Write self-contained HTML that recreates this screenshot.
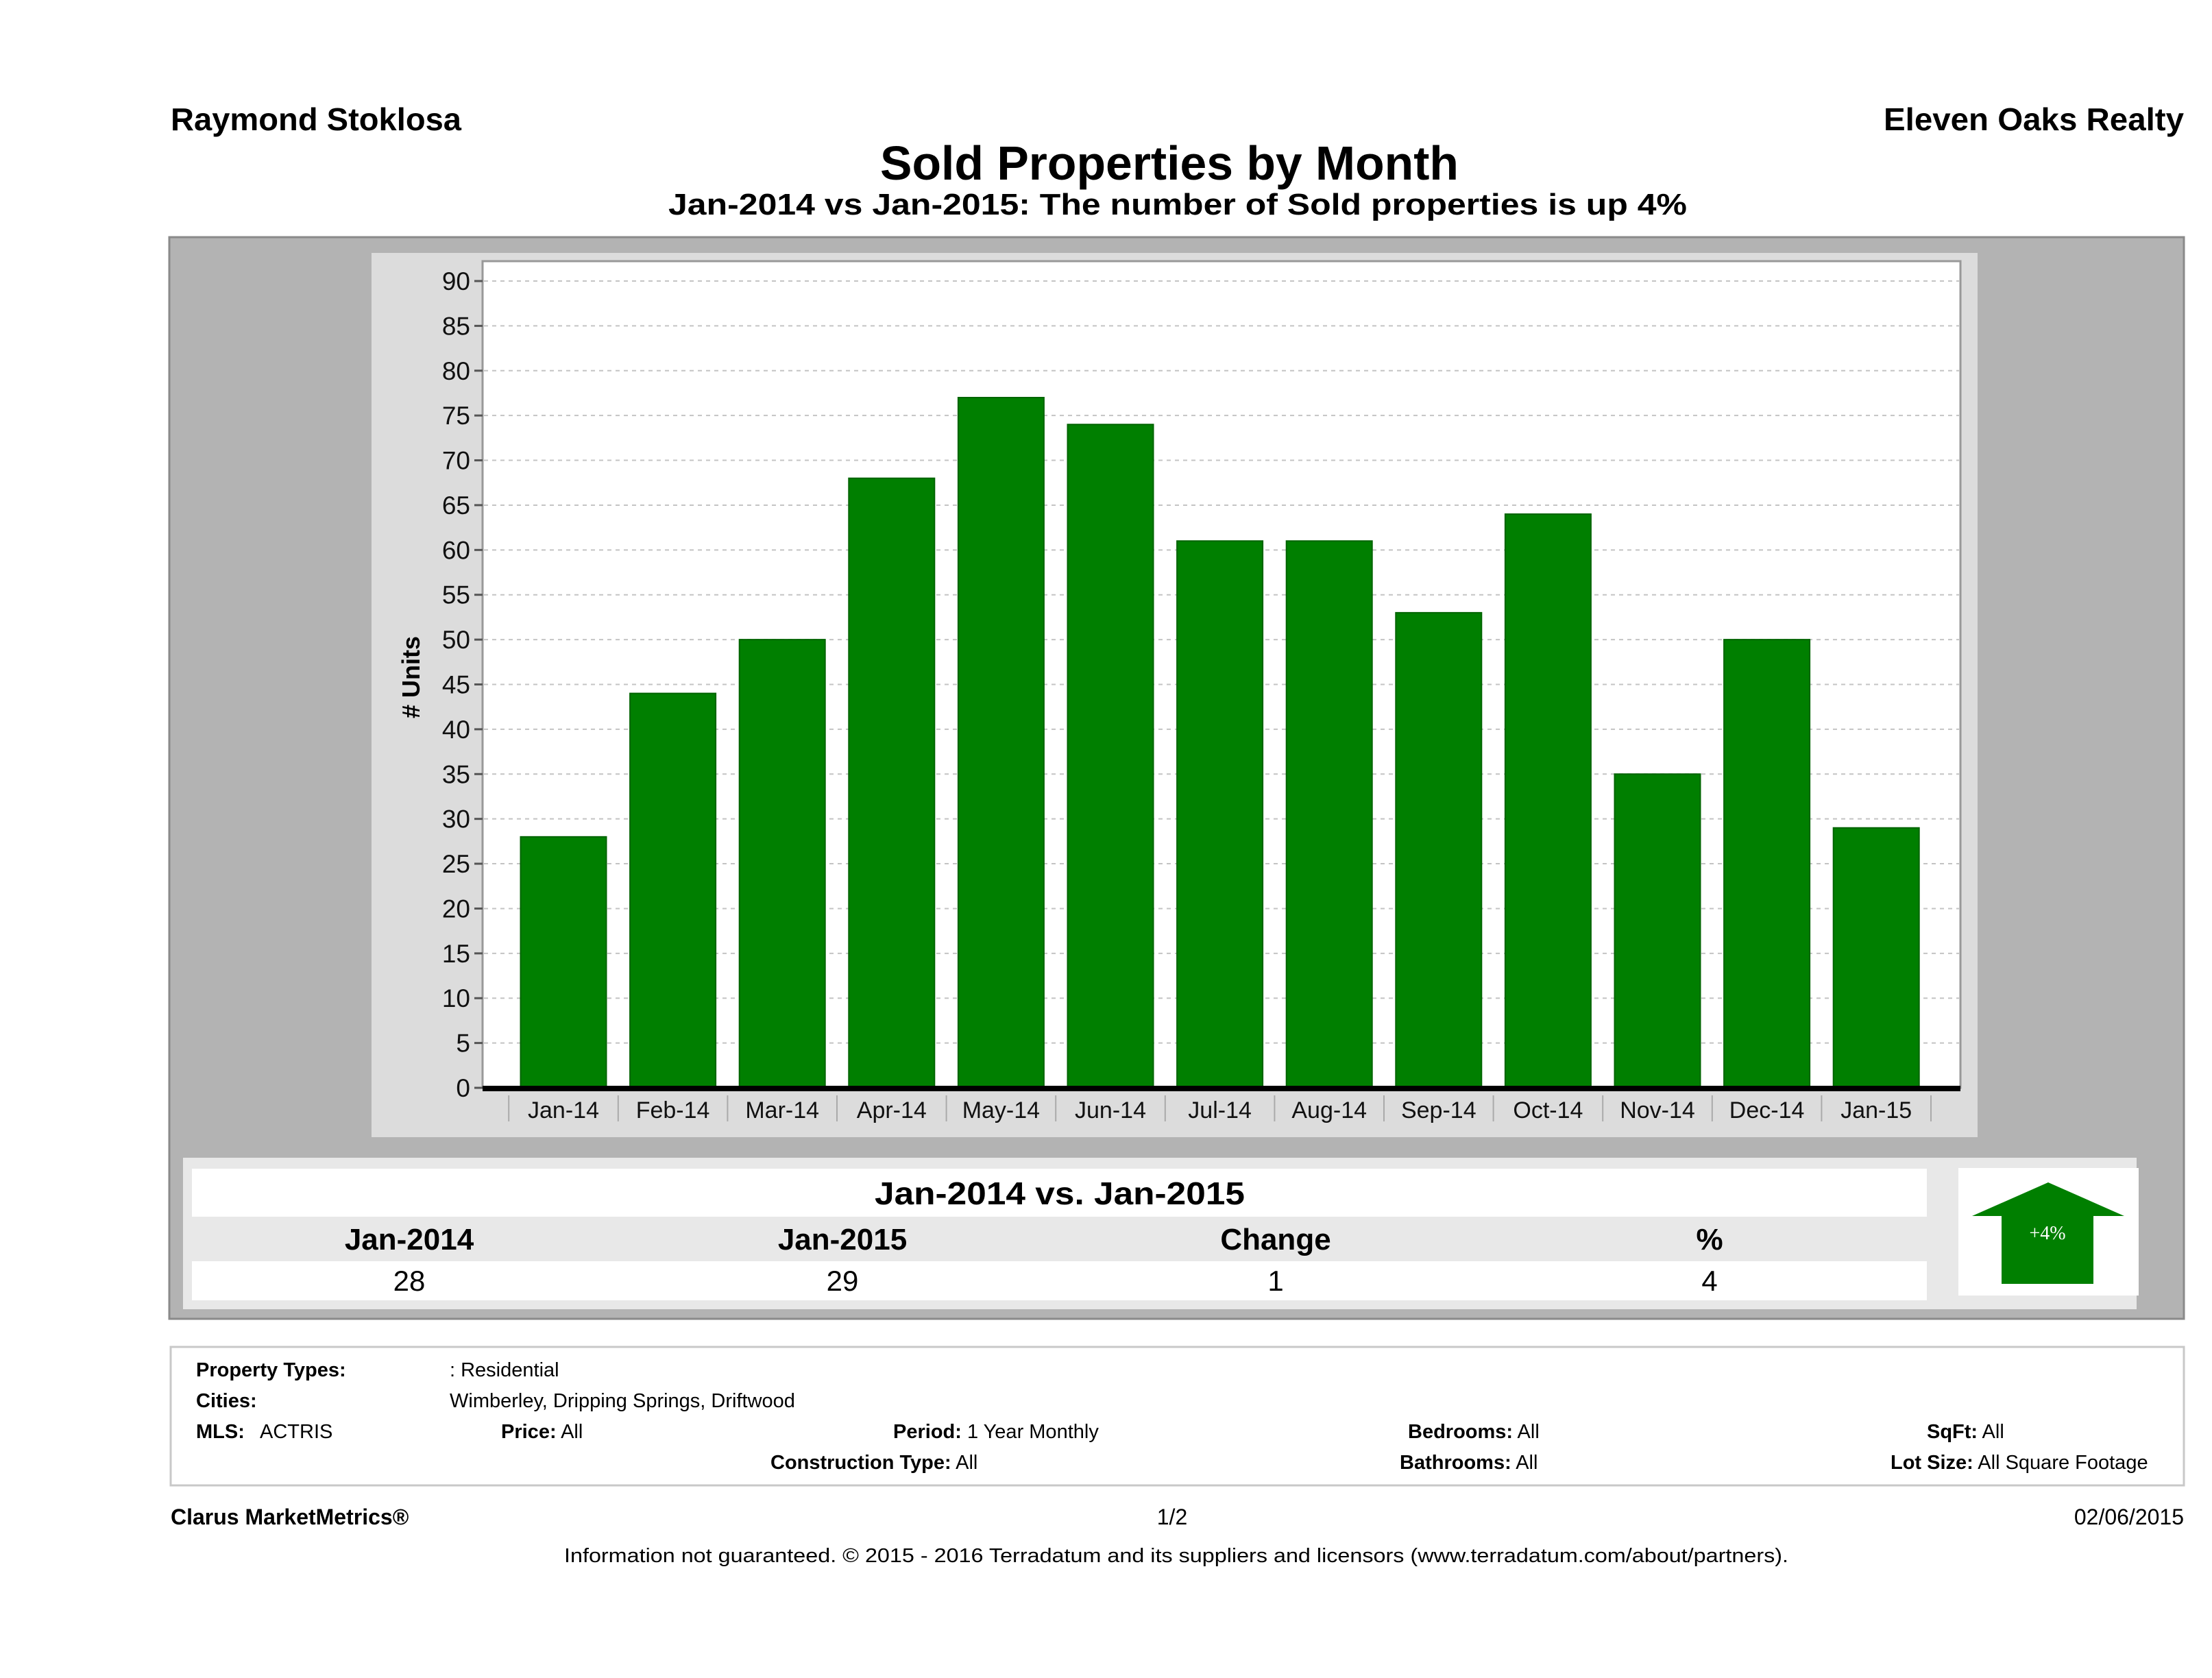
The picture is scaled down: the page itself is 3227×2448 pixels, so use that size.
<!DOCTYPE html>
<html><head><meta charset="utf-8"><style>
html,body{margin:0;padding:0;background:#fff;}
svg{display:block;font-family:"Liberation Sans",sans-serif;}
</style></head><body>
<svg id="root" width="3227" height="2448" viewBox="0 0 3227 2448">
<rect width="3227" height="2448" fill="#fff"/>
<text x="249" y="190" font-size="46" font-weight="bold" textLength="424" lengthAdjust="spacingAndGlyphs">Raymond Stoklosa</text>
<text x="3186" y="190" font-size="46" font-weight="bold" text-anchor="end" textLength="438" lengthAdjust="spacingAndGlyphs">Eleven Oaks Realty</text>
<text x="1706" y="262" font-size="70" font-weight="bold" text-anchor="middle" textLength="844" lengthAdjust="spacingAndGlyphs">Sold Properties by Month</text>
<text x="1718" y="313" font-size="44" font-weight="bold" text-anchor="middle" textLength="1486" lengthAdjust="spacingAndGlyphs">Jan-2014 vs Jan-2015: The number of Sold  properties is up 4%</text>

<rect x="247" y="346" width="2939" height="1578" fill="#b3b3b3" stroke="#8a8a8a" stroke-width="3"/>
<rect x="542" y="369" width="2343" height="1290" fill="#dcdcdc"/>
<rect x="704" y="381" width="2156" height="1206" fill="#fff" stroke="#999" stroke-width="3"/>
<g id="grid"></g>
<g id="bars"></g>
<g id="yticks"></g>
<g id="xticks"></g>
<text transform="translate(612,988) rotate(-90)" font-size="36" font-weight="bold" text-anchor="middle"># Units</text>

<rect x="267" y="1689" width="2850" height="221" fill="#e8e8e8"/>
<rect x="280" y="1705" width="2531" height="70" fill="#fff"/>
<rect x="280" y="1840" width="2531" height="57" fill="#fff"/>
<text x="1546" y="1757" font-size="46" font-weight="bold" text-anchor="middle" textLength="540" lengthAdjust="spacingAndGlyphs">Jan-2014 vs. Jan-2015</text>
<g font-size="44" font-weight="bold" text-anchor="middle">
<text x="597" y="1823">Jan-2014</text>
<text x="1229" y="1823">Jan-2015</text>
<text x="1861" y="1823">Change</text>
<text x="2494" y="1823">%</text>
</g>
<g font-size="42" text-anchor="middle">
<text x="597" y="1883">28</text>
<text x="1229" y="1883">29</text>
<text x="1861" y="1883">1</text>
<text x="2494" y="1883">4</text>
</g>
<rect x="2857" y="1704" width="263" height="186" fill="#fff"/>
<polygon points="2988,1725 3099,1774 3054,1774 3054,1873 2920,1873 2920,1774 2877,1774" fill="#007f00"/>
<text x="2987" y="1808" font-size="28" font-family="Liberation Serif, serif" fill="#fff" text-anchor="middle">+4%</text>

<rect x="249" y="1965" width="2937" height="202" fill="#fff" stroke="#c8c8c8" stroke-width="3"/>
<g font-size="29">
<text x="286" y="2008" font-weight="bold">Property Types:</text>
<text x="656" y="2008">: Residential</text>
<text x="286" y="2053" font-weight="bold">Cities:</text>
<text x="656" y="2053">Wimberley, Dripping Springs, Driftwood</text>
<text x="286" y="2098" font-weight="bold">MLS:</text>
<text x="379" y="2098">ACTRIS</text>
<text x="731" y="2098"><tspan font-weight="bold">Price:</tspan> All</text>
<text x="1303" y="2098"><tspan font-weight="bold">Period:</tspan> 1 Year Monthly</text>
<text x="2054" y="2098"><tspan font-weight="bold">Bedrooms:</tspan> All</text>
<text x="2811" y="2098"><tspan font-weight="bold">SqFt:</tspan> All</text>
<text x="1124" y="2143"><tspan font-weight="bold">Construction Type:</tspan> All</text>
<text x="2042" y="2143"><tspan font-weight="bold">Bathrooms:</tspan> All</text>
<text x="2758" y="2143"><tspan font-weight="bold">Lot Size:</tspan> All Square Footage</text>
</g>
<text x="249" y="2224" font-size="32" font-weight="bold">Clarus MarketMetrics®</text>
<text x="1710" y="2224" font-size="32" text-anchor="middle">1/2</text>
<text x="3186" y="2224" font-size="32" text-anchor="end">02/06/2015</text>
<text x="1716" y="2279" font-size="29" text-anchor="middle" textLength="1786" lengthAdjust="spacingAndGlyphs">Information not guaranteed. © 2015 - 2016 Terradatum and its suppliers and licensors (www.terradatum.com/about/partners).</text>
</svg>
<script>
const categories = ["Jan-14","Feb-14","Mar-14","Apr-14","May-14","Jun-14","Jul-14","Aug-14","Sep-14","Oct-14","Nov-14","Dec-14","Jan-15"];
const soldValues = [28,44,50,68,77,74,61,61,53,64,35,50,29];
const yTicks = [0,5,10,15,20,25,30,35,40,45,50,55,60,65,70,75,80,85,90];

const NS = "http://www.w3.org/2000/svg";
const Y0 = 1587, Y90 = 410, X_FIRST = 822, PITCH = 159.6, BAR_W = 125;
function yScale(v){ return Y0 - (Y0 - Y90) * v / 90; }
function xScale(i){ return X_FIRST + i * PITCH; }
function mk(tag, attrs){ const e = document.createElementNS(NS, tag); for (const k in attrs) e.setAttribute(k, attrs[k]); return e; }

const grid = document.getElementById('grid');
const yt = document.getElementById('yticks');
yTicks.forEach(function(t){
  const y = yScale(t);
  if (t > 0) {
    const g = mk('line', {x1:706, x2:2858, y1:y, y2:y, stroke:'#c4c4c4', 'stroke-width':2, 'stroke-dasharray':'6,6'});
    
    
    grid.appendChild(g);
  }
  const tk = mk('line', {x1:692, x2:704, y1:y, y2:y, stroke:'#555', 'stroke-width':3});
  
  
  yt.appendChild(tk);
  const lb = mk('text', {x:686, y:y+13, 'font-size':37, 'text-anchor':'end', fill:'#111'});
  lb.textContent = t;
  
  
  yt.appendChild(lb);
});

const bars = document.getElementById('bars');
soldValues.forEach(function(v, i){
  const y = yScale(v);
  const r = mk('rect', {x:xScale(i)-BAR_W/2, y:y, width:BAR_W, height:Y0-y, fill:'#007f00', stroke:'#006400', 'stroke-width':2});
  
  
  bars.appendChild(r);
});

const xt = document.getElementById('xticks');
const base = mk('rect', {x:704, y:Y0-3, width:2156, height:8, fill:'#000'});


xt.appendChild(base);
categories.forEach(function(c, i){
  const x = xScale(i);
  const sep = mk('line', {x1:x-PITCH/2, x2:x-PITCH/2, y1:1598, y2:1636, stroke:'#aaa', 'stroke-width':2});
  
  
  xt.appendChild(sep);
  const lb = mk('text', {x:x, y:1631, 'font-size':34, 'text-anchor':'middle', fill:'#111'});
  lb.textContent = c;
  
  
  xt.appendChild(lb);
});
const lastSep = mk('line', {x1:xScale(categories.length-1)+PITCH/2, x2:xScale(categories.length-1)+PITCH/2, y1:1598, y2:1636, stroke:'#aaa', 'stroke-width':2});


xt.appendChild(lastSep);
</script>
</body></html>
